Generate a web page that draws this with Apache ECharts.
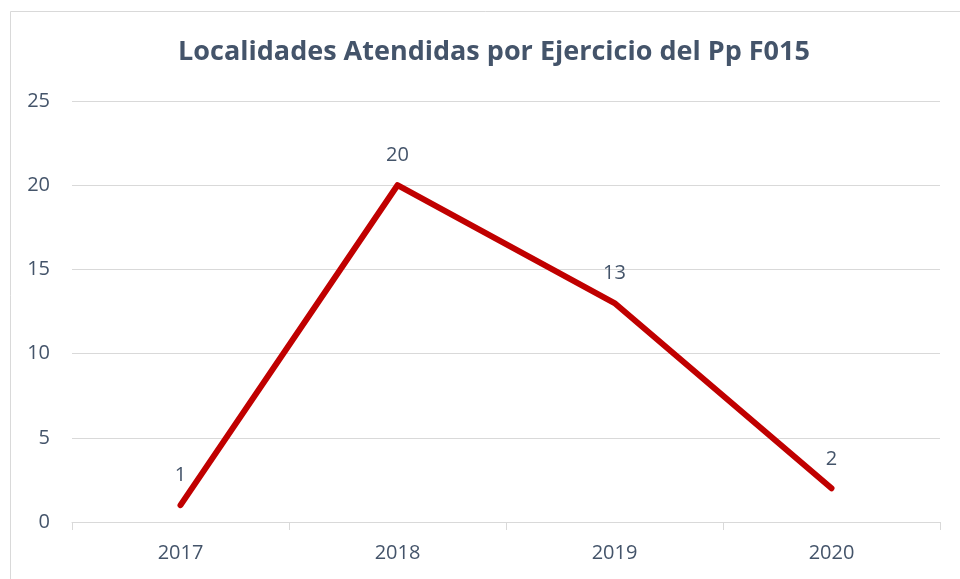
<!DOCTYPE html>
<html>
<head>
    <meta charset="utf-8">
    <title>ECharts</title>
    <script src="https://cdn.jsdelivr.net/npm/echarts@6/dist/echarts.min.js"></script>
    <style>
        html, body { margin: 0; padding: 0; background: #fff; }
    </style>
</head>
<body>
<div id="main" style="width: 960px;height:579px;"></div>
<script type="text/javascript">
    // datos
    var years = ['2017', '2018', '2019', '2020'];
    var localidades = [1, 20, 13, 2];
    var yTicks = [0, 5, 10, 15, 20, 25];

    var textColor = '#44546A';
    var fontFam = '"Open Sans", "Noto Sans", sans-serif';

    var myChart = echarts.init(document.getElementById('main'));

    var option = {
        backgroundColor: '#fff',
        title: {
            text: 'Localidades Atendidas por Ejercicio del Pp F015',
            left: 489,
            top: 34,
            textAlign: 'center',
            textStyle: {
                color: textColor,
                fontSize: 27,
                fontWeight: 'bold',
                fontFamily: fontFam
            }
        },
        graphic: [{
            type: 'rect',
            left: 8,
            top: 9,
            shape: { width: 980, height: 600 },
            style: { fill: 'none', stroke: '#D9D9D9', lineWidth: 1 },
            silent: true
        }],
        grid: {
            left: 72,
            right: 20,
            top: 101,
            bottom: 57
        },
        xAxis: {
            type: 'category',
            data: years,
            boundaryGap: true,
            axisLine: { lineStyle: { color: '#D9D9D9', width: 1 } },
            axisTick: { show: true, length: 8, lineStyle: { color: '#D9D9D9' } },
            axisLabel: {
                color: textColor,
                fontSize: 20,
                fontFamily: fontFam,
                margin: 21
            }
        },
        yAxis: {
            type: 'value',
            min: yTicks[0],
            max: yTicks[yTicks.length - 1],
            interval: 5,
            axisLine: { show: false },
            axisTick: { show: false },
            splitLine: { lineStyle: { color: '#D9D9D9', width: 1 } },
            axisLabel: {
                color: textColor,
                fontSize: 20,
                fontFamily: fontFam,
                margin: 22
            }
        },
        series: [{
            name: 'Localidades',
            type: 'line',
            data: localidades,
            symbol: 'circle',
            symbolSize: 1,
            itemStyle: { color: 'rgba(192,0,0,0)' },
            lineStyle: { color: '#C00000', width: 6, cap: 'round', join: 'round' },
            label: {
                show: true,
                position: 'top',
                distance: 19,
                color: textColor,
                fontSize: 20,
                fontFamily: fontFam
            },
            animation: false
        }],
        animation: false
    };

    myChart.setOption(option);
</script>
</body>
</html>
